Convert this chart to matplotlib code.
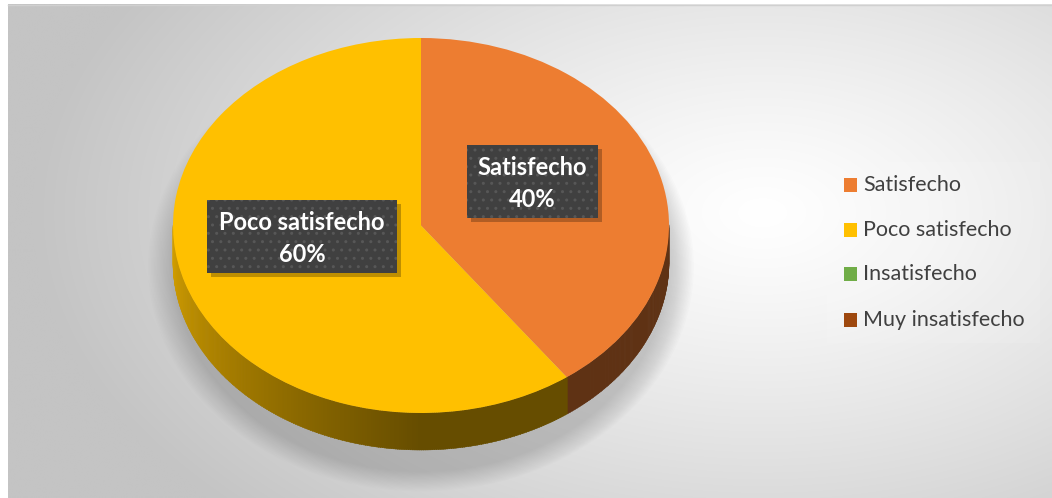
import numpy as np
import matplotlib
matplotlib.use('Agg')
import matplotlib.pyplot as plt
from matplotlib.patches import Rectangle, Ellipse
from matplotlib.collections import PolyCollection

# data
categories = ['Satisfecho', 'Poco satisfecho', 'Insatisfecho', 'Muy insatisfecho']
values = [40, 60, 0, 0]
colors = ['#ED7D31', '#FFC000', '#70AD47', '#9E480E']

W, H = 1052, 498
fig = plt.figure(figsize=(W / 100, H / 100), dpi=100)

# background with radial gradient
bg = fig.add_axes([0, 0, 1, 1], zorder=0)
bg.set_xlim(0, W); bg.set_ylim(H, 0); bg.axis('off')
yy, xx = np.mgrid[0:H, 0:W]
dd = np.sqrt(((xx - 760) / 640.0) ** 2 + ((yy - 210) / 380.0) ** 2)
g = 255 - 50 * np.clip(dd, 0, 1.25) ** 1.2
g = np.clip(g, 196, 255) / 255.0
img = np.dstack([g, g, g])
bg.imshow(img, extent=(8, W, H, 4), aspect='auto', zorder=0)
bg.plot([8, W], [4.5, 4.5], color='#d0d0d0', lw=1, zorder=1)
# legend panel
bg.add_patch(Rectangle((827, 162), 213, 181, fc='white', ec='none', alpha=0.1, zorder=2))

# pie axes: unit circle -> pixel ellipse
cx, cy, rx, ry = 421, 225.5, 248, 187.5
ax = fig.add_axes([0, 0, 1, 1], zorder=1)
ax.patch.set_alpha(0)
depth = 37 / ry

# soft shadow
for i in range(18):
    s = 1.10 - i * 0.006
    ax.add_patch(Ellipse((0, -depth / 2 - 0.12), 2 * s, 2 * s + depth, fc='#808080',
                         ec='none', alpha=0.025, zorder=0))

wedges, _ = ax.pie(values, colors=colors, startangle=90, counterclock=False,
                   radius=1, wedgeprops=dict(linewidth=0, zorder=5))
ax.set_aspect('auto')
ax.set_xlim(-cx / rx, (W - cx) / rx)
ax.set_ylim((cy - H) / ry, cy / ry)
ax.axis('off')

# side of the 3d pie
quads, qcols = [], []
step = 0.5
for w, c in zip(wedges, colors):
    t1, t2 = w.theta1, w.theta2
    if t2 - t1 <= 0:
        continue
    base = np.array(matplotlib.colors.to_rgb(c))
    t = t1
    while t < t2:
        ta = t; tb = min(t + step, t2)
        mid = np.deg2rad((ta + tb) / 2)
        if np.sin(mid) < 0:
            a = np.rad2deg(mid) % 360
            f = 0.40 + 0.44 * np.clip((270 - a) / 90, 0, 1)
            ra, rb = np.deg2rad(ta), np.deg2rad(tb + 0.2)
            quads.append([(np.cos(ra), np.sin(ra)), (np.cos(rb), np.sin(rb)),
                          (np.cos(rb), np.sin(rb) - depth), (np.cos(ra), np.sin(ra) - depth)])
            qcols.append(base * f)
        t += step
ax.add_collection(PolyCollection(quads, facecolors=qcols, edgecolors=qcols,
                                 linewidths=0.3, zorder=3))

# data labels and legend in pixel coordinates
ov = fig.add_axes([0, 0, 1, 1], zorder=2)
ov.patch.set_alpha(0)
ov.set_xlim(0, W); ov.set_ylim(H, 0); ov.axis('off')

label_boxes = {'Satisfecho': (467, 145, 131, 73), 'Poco satisfecho': (207, 200, 190, 73)}
for cat, v in zip(categories, values):
    if cat not in label_boxes:
        continue
    x0, y0, bw, bh = label_boxes[cat]
    ov.add_patch(Rectangle((x0 + 4, y0 + 4), bw, bh, fc='black', ec='none', alpha=0.25, zorder=1))
    ov.add_patch(Rectangle((x0, y0), bw, bh, fc='#404040', ec='none', zorder=2))
    ov.add_patch(Rectangle((x0, y0), bw, bh, fc='none', ec='#575757', hatch='..',
                           lw=0, zorder=3))
    ov.text(x0 + bw / 2, y0 + 22, cat, ha='center', va='center', color='white',
            fontsize=17, fontweight='bold', family='Lato', zorder=4)
    ov.text(x0 + bw / 2, y0 + 54, '%d%%' % round(100 * v / sum(values)), ha='center',
            va='center', color='white', fontsize=17, fontweight='bold', family='Lato', zorder=4)

leg_y = [185, 230, 274, 320]
for cat, c, y in zip(categories, colors, leg_y):
    ov.add_patch(Rectangle((844, y - 7), 13, 14, fc=c, ec='none'))
    ov.text(863, y, cat, ha='left', va='center', color='#404040', fontsize=15.5, family='Lato')

fig.savefig('out.png', dpi=100)
